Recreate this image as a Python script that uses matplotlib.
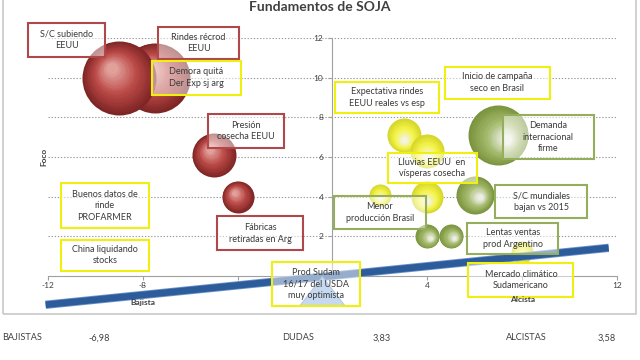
import matplotlib
matplotlib.use("Agg")
import matplotlib.pyplot as plt
from matplotlib.patches import Rectangle, Polygon
from matplotlib.transforms import offset_copy
import matplotlib.patheffects as pe
import numpy as np

plt.rcParams['font.family'] = ['Lato', 'DejaVu Sans']

# bubbles: x = bajista/alcista, y = foco, size = bubble radius (px)
red_x = [-7.5, -9.0, -5.0, -4.0]
red_y = [10.0, 10.0, 6.1, 4.0]
red_size = [35, 37, 22, 16]

yellow_x = [3.0, 4.0, 2.0, 4.0, 8.0]
yellow_y = [7.1, 6.3, 4.1, 4.0, 1.2]
yellow_size = [17, 17, 11, 16, 11]

green_x = [7.0, 6.0, 4.0, 5.0]
green_y = [7.1, 4.1, 2.0, 2.0]
green_size = [30, 19, 12, 12]

# balance bar (seesaw)
seesaw_x = [-12.1, 11.65]
seesaw_y = [-1.45, 1.42]

summary_labels = ['BAJISTAS', 'DUDAS', 'ALCISTAS']
summary_values = [-6.98, 3.83, 3.58]

x_ticks = [-12, -8, -4, 0, 4, 8, 12]
x_ticklabels = ['-12', '-8', '', '', '4', '', '12']
y_ticks = [2, 4, 6, 8, 10, 12]

# text boxes: text, frame colour
notes = [
    ("S/C subiendo\nEEUU", 'r'),
    ("Rindes récrod\nEEUU", 'r'),
    ("Demora quitá\nDer Exp sj arg", 'y'),
    ("Presión\ncosecha EEUU", 'r'),
    ("Buenos datos de\nrinde\nPROFARMER", 'y'),
    ("Fábricas\nretiradas en Arg", 'r'),
    ("China liquidando\nstocks", 'y'),
    ("Prod Sudam\n16/17 del USDA\nmuy optimista", 'y'),
    ("Expectativa rindes\nEEUU reales vs esp", 'y'),
    ("Inicio de campaña\nseco en Brasil", 'y'),
    ("Demanda\ninternacional\nfirme", 'g'),
    ("Lluvias EEUU  en\nvísperas cosecha", 'y'),
    ("Menor\nproducción Brasil", 'g'),
    ("S/C mundiales\nbajan vs 2015", 'g'),
    ("Lentas ventas\nprod Argentino", 'g'),
    ("Mercado climático\nSudamericano", 'y'),
]
# layout of the boxes: centre (data units), width, height (px)
note_pos = [
    (-11.2, 11.9, 77, 34), (-5.65, 11.75, 81, 32), (-5.75, 10.0, 89, 34),
    (-3.65, 7.3, 76, 34), (-9.6, 3.55, 88, 45), (-3.05, 2.15, 86, 34),
    (-9.6, 1.05, 88, 31), (-0.7, -0.4, 88, 44), (2.3, 9.0, 104, 31),
    (6.95, 9.75, 105, 32), (9.1, 7.0, 91, 44), (4.2, 5.45, 89, 30),
    (2.0, 3.2, 92, 33), (8.8, 3.75, 92, 33), (7.6, 1.9, 91, 31),
    (7.95, -0.2, 105, 34),
]
frame_col = {'r': '#b0474b', 'y': '#f0f010', 'g': '#94ae5c'}

fig = plt.figure(figsize=(6.4, 3.6), dpi=100)
ax = fig.add_axes([0.075, 0.2333, 0.889, 0.661])
ax.set_xlim(-12, 12)
ax.set_ylim(0, 12)

# frame around chart
fig.patches.append(Rectangle((3 / 640, 46 / 360), 633 / 640, 1.0, transform=fig.transFigure,
                             fill=False, ec='#c8c8c8', lw=1.2))

for s in ['top', 'right']:
    ax.spines[s].set_visible(False)
ax.spines['left'].set_position(('data', 0))
ax.spines['left'].set_color('#a0a0a0')
ax.spines['bottom'].set_color('#a0a0a0')
ax.set_xticks(x_ticks)
ax.set_xticklabels(x_ticklabels)
ax.set_yticks(y_ticks)
ax.tick_params(axis='both', labelsize=6, colors='#a0a0a0', labelcolor='#404040', length=3)
ax.tick_params(axis='x', pad=1.5)
ax.patch.set_alpha(0)
for yv in y_ticks:
    ax.axhline(yv, color='#9a9a9a', lw=0.8, ls=(0, (1.2, 1.6)), zorder=0)


def mix(c1, c2, t):
    a = np.array(matplotlib.colors.to_rgb(c1))
    b = np.array(matplotlib.colors.to_rgb(c2))
    return tuple(a + (b - a) * t)


def sphere(x, y, r, c_edge, c_mid, c_light, hx, hy):
    n = 22
    for k in range(n):
        t = k / (n - 1)
        rk = r * (1 - 0.85 * t)
        if t < 0.5:
            col = mix(c_edge, c_mid, t / 0.5)
        else:
            col = mix(c_mid, c_light, (t - 0.5) / 0.5)
        tr = offset_copy(ax.transData, fig=fig, x=hx * r * 0.5 * t * 0.72,
                         y=hy * r * 0.5 * t * 0.72, units='points')
        ax.scatter([x], [y], s=(2 * rk * 0.72) ** 2, color=col, lw=0,
                   transform=tr, zorder=2)


for x, y, r in zip(red_x, red_y, red_size):
    sphere(x, y, r, '#7e2525', '#bb4a47', '#e2a09b', -0.4, 0.5)
for x, y, r in zip(yellow_x, yellow_y, yellow_size):
    sphere(x, y, r, '#d6d62a', '#f4f44a', '#f3f3e2', 0.0, -0.6)
for x, y, r in zip(green_x, green_y, green_size):
    sphere(x, y, r, '#7b943e', '#a4ba6c', '#eceee4', 0.55, -0.25)

# seesaw
ax.plot(seesaw_x, seesaw_y, color='#2d5c9b', lw=4.8, solid_capstyle='butt', clip_on=False,
        zorder=3, path_effects=[pe.Stroke(linewidth=6, foreground='#6f95c8'), pe.Normal()])
mid = np.mean(seesaw_x) - 0.2
mid_y = np.interp(mid, seesaw_x, seesaw_y)
ax.add_patch(Polygon([(mid, mid_y), (mid - 0.95, -1.5), (mid + 0.95, -1.5)], closed=True,
                     fc='#8db3e2', ec='#6f95c8', lw=0.8, clip_on=False, zorder=3))

# notes
sx = fig.get_figwidth() * fig.dpi * 0.889 / 24
sy = fig.get_figheight() * fig.dpi * 0.661 / 12
for (txt, c), (cx, cy, w, h) in zip(notes, note_pos):
    ax.add_patch(Rectangle((cx - w / sx / 2, cy - h / sy / 2), w / sx, h / sy,
                           fc=(1, 1, 1, 0.5), ec=frame_col[c], lw=1.5, clip_on=False, zorder=4))
    ax.text(cx, cy, txt, ha='center', va='center', fontsize=6.5, color='#3a3a3a',
            linespacing=1.35, zorder=5, clip_on=False)

ax.text(-8, -1.32, 'Bajista', ha='center', va='center', fontsize=6, fontweight='bold',
        color='#404040', zorder=6)
ax.text(8, -1.17, 'Alcista', ha='center', va='center', fontsize=6, fontweight='bold',
        color='#404040', zorder=6)
fig.text(44 / 640, 1 - 157 / 360, 'Foco', rotation=90, ha='center', va='center',
         fontsize=6, fontweight='bold', color='#404040')

fig.text(0.5, 0.997, 'Fundamentos de SOJA', ha='center', va='top', fontsize=10,
         fontweight='bold', color='#404040')

# summary row
lab_x = [2, 282, 506]
val_x = [88, 373, 598]
for lbl, v, lx, vx in zip(summary_labels, summary_values, lab_x, val_x):
    fig.text(lx / 640, 1 - 338 / 360, lbl, ha='left', va='center', fontsize=6.6, color='#404040')
    fig.text(vx / 640, 1 - 338 / 360, f'{v:.2f}'.replace('.', ','), ha='left', va='center',
             fontsize=6.6, color='#404040')

fig.savefig('out.png', dpi=100)
